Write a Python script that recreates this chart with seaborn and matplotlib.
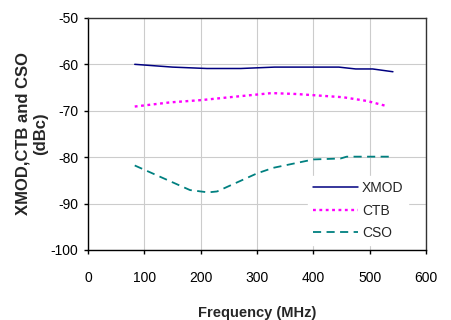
import pandas as pd
import matplotlib.pyplot as plt
import seaborn as sns

xmod_freq = [83, 150, 211, 271, 331, 445, 475, 505, 541]
xmod_dbc = [-60.0, -60.6, -60.9, -60.9, -60.6, -60.6, -61.0, -61.0, -61.6]

ctb_freq = [83, 146, 202, 259, 326, 370, 453, 495, 530]
ctb_dbc = [-69.1, -68.2, -67.7, -67.0, -66.2, -66.4, -67.1, -67.9, -69.0]

cso_freq = [83, 181, 213, 229, 300, 329, 400, 448, 459, 541]
cso_dbc = [-81.8, -87.1, -87.6, -87.4, -83.5, -82.3, -80.5, -80.3, -79.9, -79.9]

sns.set_style("white")
plt.rcParams['font.family'] = ['Liberation Sans', 'DejaVu Sans']
plt.rcParams['axes.unicode_minus'] = False

fig = plt.figure(figsize=(4.51, 3.2), dpi=100)
ax = fig.add_axes([0.195, 0.219, 0.75, 0.725])

sns.lineplot(x=xmod_freq, y=xmod_dbc, ax=ax, color='#000080', lw=1.1,
             label='XMOD')
sns.lineplot(x=ctb_freq, y=ctb_dbc, ax=ax, color='#ff00ff', lw=1.7,
             linestyle=(0, (1.2, 1.5)), label='CTB')
sns.lineplot(x=cso_freq, y=cso_dbc, ax=ax, color='#008080', lw=1.3,
             linestyle=(0, (4.5, 3)), label='CSO')

ax.set_xlim(0, 600)
ax.set_ylim(-100, -50)
ax.set_xticks(range(0, 601, 100))
ax.set_yticks(range(-100, -49, 10))
ax.grid(True, color='#cccccc', lw=0.8)
ax.tick_params(axis='both', labelsize=10, direction='out', length=3,
               width=1, colors='black', bottom=True, left=True)
ax.tick_params(axis='x', pad=12)
ax.tick_params(axis='y', pad=4)
for side in ['left', 'bottom']:
    ax.spines[side].set_color('black')
    ax.spines[side].set_linewidth(1)
for side in ['top', 'right']:
    ax.spines[side].set_color('#333333')
    ax.spines[side].set_linewidth(1)

ax.set_xlabel('Frequency (MHz)', fontsize=10.5, fontweight='bold', labelpad=15)
ax.set_ylabel('XMOD,CTB and CSO\n(dBc)', fontsize=12, fontweight='bold',
              labelpad=2, linespacing=1.2)

leg = ax.legend(loc='lower right', bbox_to_anchor=(0.947, 0.022),
                borderaxespad=0, frameon=True, fontsize=10,
                handlelength=3.2, handletextpad=0.3,
                labelspacing=0.6, borderpad=0.35)
leg.get_frame().set_edgecolor('white')
leg.get_frame().set_facecolor('white')
leg.get_frame().set_alpha(1)
leg.get_frame().set_boxstyle('square', pad=0)

fig.savefig('out.png', dpi=100)
